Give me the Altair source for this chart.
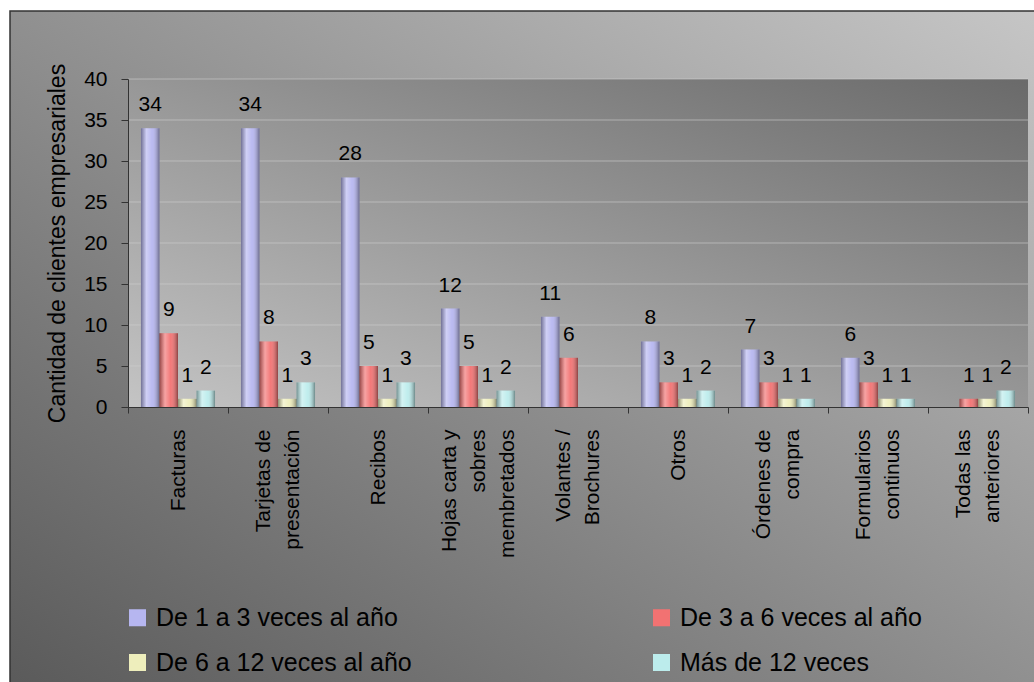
import altair as alt
import pandas as pd

categories = [
    "Facturas",
    "Tarjetas de\npresentación",
    "Recibos",
    "Hojas carta y\nsobres\nmembretados",
    "Volantes /\nBrochures",
    "Otros",
    "Órdenes de\ncompra",
    "Formularios\ncontinuos",
    "Todas las\nanteriores",
]
series_names = [
    "De 1 a 3 veces al año",
    "De 3 a 6 veces al año",
    "De 6 a 12 veces al año",
    "Más de 12 veces",
]
s1 = [34, 34, 28, 12, 11, 8, 7, 6, 0]
s2 = [9, 8, 5, 5, 6, 3, 3, 3, 1]
s3 = [1, 1, 1, 1, 0, 1, 1, 1, 1]
s4 = [2, 3, 3, 2, 0, 2, 1, 1, 2]
series_colors = ["#b6b6f0", "#f27272", "#eeeebc", "#bcecec"]
y_ticks = [0, 5, 10, 15, 20, 25, 30, 35, 40]
grid_vals = [5, 10, 15, 20, 25, 30, 35, 40]

rows = []
for name, vals in zip(series_names, [s1, s2, s3, s4]):
    for c, v in zip(categories, vals):
        rows.append({"cat": c, "series": name, "value": v})
df = pd.DataFrame(rows)
df_grid = pd.DataFrame({"value": grid_vals})
df_one = pd.DataFrame({"k": [0]})

FONT = "Liberation Sans"

outer_grad = alt.LinearGradient(
    gradient="linear", x1=0, y1=1, x2=1, y2=0,
    stops=[alt.GradientStop(offset=0, color="#5a5a5a"),
           alt.GradientStop(offset=1, color="#c6c6c6")],
)
plot_grad = alt.LinearGradient(
    gradient="linear", x1=0, y1=1, x2=1, y2=0,
    stops=[alt.GradientStop(offset=0, color="#c4c4c4"),
           alt.GradientStop(offset=1, color="#6a6a6a")],
)
bar_grad = alt.LinearGradient(
    gradient="linear", x1=0, y1=0, x2=1, y2=0,
    stops=[alt.GradientStop(offset=0, color="rgba(0,0,0,0.38)"),
           alt.GradientStop(offset=0.3, color="rgba(255,255,255,0.35)"),
           alt.GradientStop(offset=0.6, color="rgba(255,255,255,0.05)"),
           alt.GradientStop(offset=1, color="rgba(0,0,0,0.42)")],
)

x_enc = alt.X(
    "cat:N", sort=categories,
    scale=alt.Scale(paddingInner=0, paddingOuter=0),
    axis=alt.Axis(
        title=None, labelAngle=-90, labelAlign="right", labelBaseline="middle",
        labelFont=FONT, labelFontSize=21, labelColor="black", labelPadding=16,
        labelLineHeight=29, labelExpr="split(datum.label, '\\n')",
        labelOffset=alt.ExprRef(expr="-(length(split(datum.label, '\\n')) - 1) * 14.5"),
        labelLimit=400, labelOverlap=False, tickBand="extent", tickSize=6,
        tickColor="#333333", domainColor="#333333", grid=False, zindex=1,
    ),
)
xoff_enc = alt.XOffset(
    "series:N", sort=series_names,
    scale=alt.Scale(domain=series_names, paddingInner=0, paddingOuter=0.7),
)
y_enc = alt.Y(
    "value:Q",
    scale=alt.Scale(domain=[0, 40], nice=False),
    axis=alt.Axis(
        title="Cantidad de clientes empresariales", titleFont=FONT,
        titleFontSize=23, titleFontWeight="normal", titleColor="black",
        titlePadding=14, values=y_ticks, labelFont=FONT, labelFontSize=21,
        labelColor="black", labelPadding=14, tickSize=7, tickColor="#333333",
        domainColor="#333333", grid=False, zindex=1,
    ),
)

frame = alt.Chart(df_one).mark_rect(
    fill=outer_grad, stroke="#333333", strokeWidth=1.5
).encode(
    x=alt.value(-118), x2=alt.value(912), y=alt.value(-68), y2=alt.value(610)
)
plot_bg = alt.Chart(df_one).mark_rect(fill=plot_grad).encode(
    x=alt.value(0), x2=alt.value(900), y=alt.value(0), y2=alt.value(328)
)
grid = alt.Chart(df_grid).mark_rule(color="#d0d0d0", opacity=0.6, strokeWidth=1).encode(
    y=alt.Y("value:Q")
)
bars = alt.Chart(df).mark_bar().encode(
    x=x_enc, xOffset=xoff_enc, y=y_enc,
    color=alt.Color(
        "series:N", sort=series_names,
        scale=alt.Scale(domain=series_names, range=series_colors),
        legend=alt.Legend(
            title=None, orient="none", legendX=-3, legendY=526, columns=2,
            direction="horizontal", symbolType="square", symbolSize=290,
            symbolStrokeWidth=0, labelFont=FONT, labelFontSize=25,
            labelColor="black", labelLimit=400, labelOffset=6,
            columnPadding=237, rowPadding=19, padding=0,
        ),
    ),
)
shade = alt.Chart(df).mark_bar(fill=bar_grad).encode(
    x=alt.X("cat:N", sort=categories), xOffset=alt.XOffset("series:N", sort=series_names),
    y=alt.Y("value:Q"),
)
labels = alt.Chart(df).transform_filter("datum.value > 0").mark_text(
    baseline="alphabetic", dy=-17, font=FONT, fontSize=21, color="black"
).encode(
    x=alt.X("cat:N", sort=categories), xOffset=alt.XOffset("series:N", sort=series_names),
    y=alt.Y("value:Q"), text=alt.Text("value:Q"),
)

chart = alt.layer(frame, plot_bg, grid, bars, shade, labels).properties(
    width=900, height=328,
    autosize=alt.AutoSizeParams(type="none"),
    padding={"left": 128, "top": 79, "right": 6, "bottom": 275},
    background="white",
).configure_view(stroke=None)

chart.save("out.html", embed_options={"renderer": "svg", "actions": False})
